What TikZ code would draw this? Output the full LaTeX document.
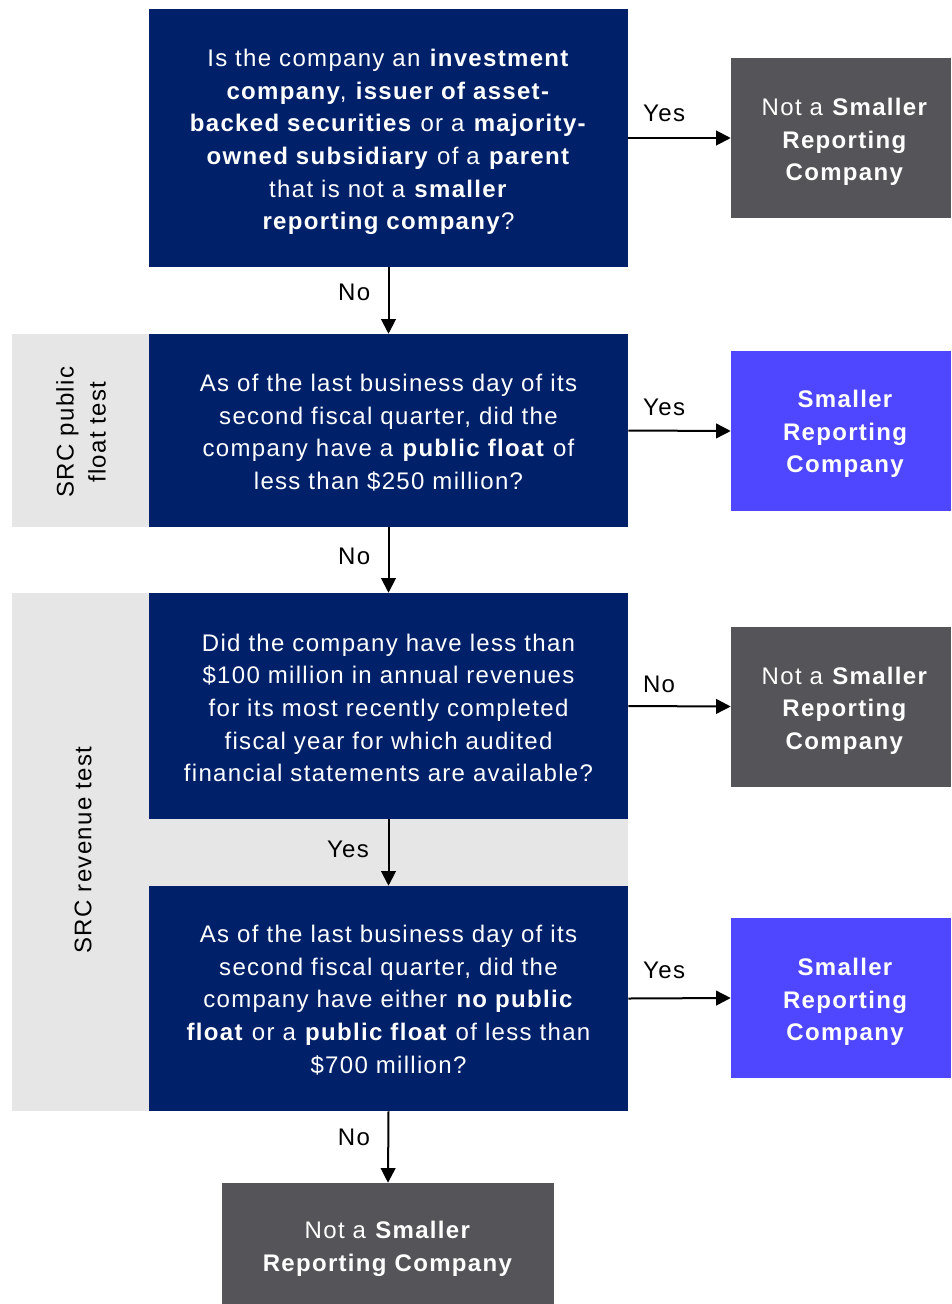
\documentclass[tikz,border=0pt]{standalone}
\usepackage{fontspec}
\setmainfont{Liberation Sans}[LetterSpace=5.5]
\usetikzlibrary{arrows.meta}
\definecolor{navy}{HTML}{002169}
\definecolor{darkgr}{HTML}{555559}
\definecolor{violet}{HTML}{4F47FF}
\definecolor{band}{HTML}{E6E6E6}
\tikzset{
  qbox/.style={fill=navy, inner sep=0pt, minimum width=359.25pt},
  nbox/.style={fill=darkgr, inner sep=0pt, minimum width=165pt, minimum height=120pt},
  sbox/.style={fill=violet, inner sep=0pt, minimum width=165pt, minimum height=120pt},
  btxt/.style={text=white, align=center, inner sep=0pt, font=\fontsize{18}{24.5}\selectfont},
  arr/.style={line width=1.5pt, -{Triangle[length=11pt,width=11pt]}},
  lbl/.style={font=\fontsize{18}{22}\selectfont, text=black, inner sep=0pt},
  bandtxt/.style={rotate=90, align=center, font=\fontsize{18}{24}\selectfont, inner sep=0pt}
}
\begin{document}
\begin{tikzpicture}[x=0.75pt,y=-0.75pt]
\useasboundingbox (0,0) rectangle (951,1304);
% bands
\fill[band] (12,334) rectangle (149,527);
\fill[band] (12,593) rectangle (628,1111);
\node[bandtxt] (b1) at (81,432) {SRC public\\float test};
\node[bandtxt] (b2) at (83,850) {SRC revenue test};
% question boxes
\node[qbox, minimum height=193.5pt] (q1) at (388.5,138) {};
\node[qbox, minimum height=144.75pt] (q2) at (388.5,430.5) {};
\node[qbox, minimum height=169.5pt] (q3) at (388.5,706) {};
\node[qbox, minimum height=168.75pt] (q4) at (388.5,998.5) {};
\node[btxt] (q1t) at ([yshift=-3pt]q1.center) {Is the company an \textbf{investment}\\\textbf{company}, \textbf{issuer of asset-}\\\textbf{backed securities} or a \textbf{majority-}\\\textbf{owned subsidiary} of a \textbf{parent}\\that is not a \textbf{smaller}\\\textbf{reporting company}?};
\node[btxt] (q2t) at ([yshift=-1.5pt]q2.center) {As of the last business day of its\\second fiscal quarter, did the\\company have a \textbf{public float} of\\less than \$250 million?};
\node[btxt] (q3t) at ([yshift=-1.5pt]q3.center) {Did the company have less than\\\$100 million in annual revenues\\for its most recently completed\\fiscal year for which audited\\financial statements are available?};
\node[btxt] (q4t) at ([yshift=-1pt]q4.center) {As of the last business day of its\\second fiscal quarter, did the\\company have either \textbf{no public}\\\textbf{float} or a \textbf{public float} of less than\\\$700 million?};
% result boxes
\node[nbox] (r1) at (841,138) {};
\node[sbox] (r2) at (841,431) {};
\node[nbox] (r3) at (841,706.5) {};
\node[sbox] (r4) at (841,998) {};
\node[nbox, minimum width=249pt, minimum height=90.75pt] (r5) at (388,1243.5) {};
\node[btxt] (r1t) at ([xshift=3pt,yshift=-3pt]r1.center) {Not a \textbf{Smaller}\\\textbf{Reporting}\\\textbf{Company}};
\node[btxt, font=\fontsize{18}{24.5}\selectfont\bfseries] (r2t) at ([xshift=3pt,yshift=-2.25pt]r2.center) {Smaller\\Reporting\\Company};
\node[btxt] (r3t) at ([xshift=3pt,yshift=-3pt]r3.center) {Not a \textbf{Smaller}\\\textbf{Reporting}\\\textbf{Company}};
\node[btxt, font=\fontsize{18}{24.5}\selectfont\bfseries] (r4t) at ([xshift=3pt,yshift=-3pt]r4.center) {Smaller\\Reporting\\Company};
\node[btxt] (r5t) at ([yshift=-4pt]r5.center) {Not a \textbf{Smaller}\\\textbf{Reporting Company}};
% connectors
\draw[arr] (q1.east) -- node[lbl, pos=0.35, above=11.75pt] {Yes} (r1.west);
\draw[arr] (q2.east) -- node[lbl, pos=0.35, above=10.25pt] {Yes} (r2.west);
\draw[arr] (q3.east) -- node[lbl, pos=0.3, above=9.25pt] {No} (r3.west);
\draw[arr] (q4.east) -- node[lbl, pos=0.35, above=13.75pt] {Yes} (r4.west);
\draw[arr] (q1.south) -- node[lbl, pos=0.38, left=13pt] {No} (q2.north);
\draw[arr] (q2.south) -- node[lbl, pos=0.45, left=13pt] {No} (q3.north);
\draw[arr] (q3.south) -- node[lbl, pos=0.45, left=14pt] {Yes} (q4.north);
\draw[arr] (q4.south) -- node[lbl, pos=0.36, left=13pt] {No} (r5.north);
\end{tikzpicture}
\end{document}
